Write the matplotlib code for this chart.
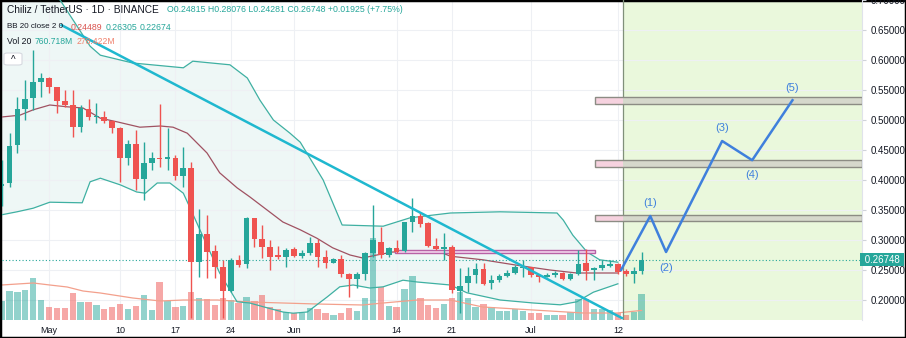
import matplotlib
matplotlib.use("Agg")
import matplotlib.pyplot as plt
import numpy as np
from matplotlib.patches import Rectangle, FancyBboxPatch

plt.rcParams['font.family'] = ['Liberation Sans', 'DejaVu Sans']

# giorni contati dal 1 maggio 2021 (25 apr .. 15 lug)
days = np.arange(-6, 76)
opens = [0.390, 0.395, 0.458, 0.518, 0.537, 0.563, 0.570, 0.555, 0.532, 0.525,
         0.488, 0.518, 0.505, 0.505, 0.498, 0.487, 0.437, 0.460, 0.402, 0.428,
         0.437, 0.435, 0.437, 0.407, 0.420, 0.263, 0.310, 0.282, 0.255, 0.215,
         0.267, 0.260, 0.337, 0.302, 0.288, 0.275, 0.272, 0.285, 0.273, 0.278,
         0.295, 0.272, 0.262, 0.268, 0.243, 0.235, 0.243, 0.278, 0.297, 0.275,
         0.287, 0.282, 0.330, 0.340, 0.328, 0.290, 0.285, 0.288, 0.215, 0.228,
         0.242, 0.252, 0.228, 0.233, 0.240, 0.245, 0.253, 0.255, 0.242, 0.238,
         0.242, 0.245, 0.235, 0.243, 0.262, 0.250, 0.253, 0.257, 0.260, 0.248,
         0.243, 0.24815]
highs = [0.433, 0.478, 0.538, 0.567, 0.617, 0.578, 0.572, 0.555, 0.550, 0.550,
         0.525, 0.535, 0.528, 0.515, 0.500, 0.488, 0.467, 0.483, 0.463, 0.447,
         0.527, 0.487, 0.442, 0.455, 0.430, 0.352, 0.342, 0.292, 0.267, 0.270,
         0.275, 0.338, 0.337, 0.325, 0.300, 0.290, 0.287, 0.288, 0.283, 0.305,
         0.302, 0.283, 0.270, 0.275, 0.245, 0.247, 0.280, 0.358, 0.322, 0.288,
         0.300, 0.330, 0.370, 0.347, 0.330, 0.303, 0.312, 0.292, 0.253, 0.255,
         0.262, 0.262, 0.242, 0.243, 0.250, 0.258, 0.267, 0.255, 0.243, 0.245,
         0.248, 0.247, 0.245, 0.283, 0.285, 0.255, 0.267, 0.267, 0.262, 0.252,
         0.255, 0.28076]
lows = [0.357, 0.388, 0.445, 0.500, 0.517, 0.538, 0.545, 0.512, 0.522, 0.472,
        0.480, 0.500, 0.495, 0.495, 0.478, 0.397, 0.425, 0.383, 0.367, 0.417,
        0.422, 0.417, 0.400, 0.388, 0.170, 0.238, 0.237, 0.237, 0.170, 0.213,
        0.255, 0.253, 0.288, 0.270, 0.250, 0.268, 0.255, 0.272, 0.270, 0.275,
        0.255, 0.253, 0.262, 0.238, 0.205, 0.220, 0.233, 0.272, 0.270, 0.272,
        0.278, 0.280, 0.313, 0.322, 0.288, 0.283, 0.267, 0.212, 0.178, 0.213,
        0.228, 0.225, 0.218, 0.230, 0.238, 0.243, 0.238, 0.238, 0.230, 0.238,
        0.238, 0.233, 0.233, 0.242, 0.233, 0.233, 0.250, 0.255, 0.243, 0.240,
        0.228, 0.24281]
closes = [0.393, 0.457, 0.518, 0.535, 0.563, 0.570, 0.555, 0.532, 0.525, 0.488,
          0.520, 0.505, 0.507, 0.498, 0.487, 0.437, 0.460, 0.402, 0.428, 0.437,
          0.435, 0.438, 0.407, 0.420, 0.263, 0.310, 0.280, 0.255, 0.215, 0.267,
          0.258, 0.337, 0.302, 0.288, 0.272, 0.272, 0.283, 0.273, 0.278, 0.295,
          0.272, 0.262, 0.268, 0.243, 0.235, 0.243, 0.278, 0.300, 0.275, 0.287,
          0.280, 0.330, 0.340, 0.327, 0.290, 0.285, 0.288, 0.217, 0.223, 0.240,
          0.252, 0.227, 0.233, 0.240, 0.245, 0.255, 0.255, 0.242, 0.238, 0.242,
          0.245, 0.235, 0.243, 0.260, 0.248, 0.253, 0.258, 0.260, 0.247, 0.243,
          0.248, 0.26748]
# volumi in milioni
volumes = [551, 841, 812, 870, 1218, 580, 377, 348, 348, 783,
           522, 522, 435, 319, 377, 464, 319, 406, 725, 290,
           1102, 551, 377, 406, 812, 638, 609, 435, 638, 580,
           493, 667, 551, 725, 377, 319, 232, 203, 203, 348,
           319, 203, 145, 203, 348, 261, 638, 2378, 957, 406,
           377, 899, 1276, 638, 435, 348, 464, 638, 812, 638,
           377, 464, 377, 261, 261, 319, 261, 203, 203, 145,
           145, 145, 232, 609, 609, 319, 319, 290, 203, 145,
           232, 761]

# Bollinger
bb_up_x = [-5.95, 1.4, 5.2, 6.5, 10.6, 17.0, 18.2, 22.9, 25.1, 26.7, 28.4, 30.5, 31.8,
           34.7, 37.1, 42.3, 45.7, 50.8, 57.1, 64.3, 65.1, 66.3, 68.1, 69.7, 72.0]
bb_up_y = [0.750, 0.700, 0.623, 0.608, 0.595, 0.587, 0.598, 0.592, 0.570, 0.533, 0.500, 0.478, 0.463,
           0.400, 0.325, 0.323, 0.337, 0.345, 0.347, 0.345, 0.333, 0.308, 0.280, 0.267, 0.263]
bb_mid_x = [-6.0, -3.7, -2.0, 0.1, 2.3, 4.3, 6.5, 8.6, 11.5, 14.1, 15.7, 17.5, 20.0, 21.6,
            23.8, 25.4, 27.6, 29.6, 31.8, 33.9, 35.9, 38.1, 39.7, 41.5, 43.5, 46.6, 49.5,
            50.8, 54.9, 59.2, 63.4, 66.8, 72.0]
bb_mid_y = [0.505, 0.508, 0.517, 0.525, 0.522, 0.520, 0.503, 0.497, 0.488, 0.490, 0.488, 0.478,
            0.445, 0.412, 0.387, 0.372, 0.350, 0.330, 0.317, 0.303, 0.287, 0.275, 0.270, 0.275,
            0.280, 0.280, 0.280, 0.273, 0.267, 0.258, 0.250, 0.245, 0.245]
bb_low_x = [-6.0, -4.05, -2.0, 0.1, 4.2, 5.2, 6.5, 9.0, 11.1, 12.2, 13.7, 15.3, 17.0, 17.8,
            19.1, 21.6, 23.8, 25.4, 27.6, 29.6, 30.9, 32.7, 33.4, 35.2, 36.8, 38.5, 40.6,
            42.3, 44.8, 46.6, 50.8, 52.9, 57.1, 61.3, 64.7, 66.8, 68.9, 72.0]
bb_low_y = [0.342, 0.347, 0.353, 0.363, 0.362, 0.397, 0.403, 0.392, 0.380, 0.378, 0.395, 0.395,
            0.378, 0.355, 0.317, 0.245, 0.197, 0.195, 0.187, 0.180, 0.178, 0.180, 0.187, 0.205,
            0.222, 0.225, 0.220, 0.222, 0.233, 0.230, 0.225, 0.212, 0.200, 0.195, 0.192, 0.197,
            0.213, 0.227]
# media mobile volumi (milioni)
vol_ma_x = [-6.0, -2.0, 0.1, 2.3, 4.3, 6.5, 10.6, 14.1, 17.0, 21.3, 25.4, 29.6, 33.9, 39.7,
            42.3, 46.6, 50.8, 54.9, 61.3, 67.6, 71.9, 75.0]
vol_ma_y = [1015, 1073, 1015, 957, 841, 783, 638, 551, 580, 580, 522, 493, 464, 435,
            493, 580, 580, 377, 290, 203, 203, 278]

# trendline, zone, onde di Elliott
trend_x = [1.6, 72.5]
trend_y = [0.658, 0.170]
zones = [(0.527, 0.538), (0.422, 0.433), (0.332, 0.342)]
zone_start = 69.1
zone_purple = (43.8, 69.1, 0.278, 0.283)
wave_x = [72.4, 76.1, 78.1, 85.2, 89.0, 94.1]
wave_y = [0.250, 0.340, 0.280, 0.465, 0.433, 0.533]
wave_labels = ['(1)', '(2)', '(3)', '(4)', '(5)']
wave_label_y = [0.362, 0.253, 0.487, 0.408, 0.553]
proj_start = 72.6
last_price = 0.26748

date_ticks = [0, 9, 16, 23, 31, 44, 51, 61, 72]
date_labels = ['May', '10', '17', '24', 'Jun', '14', '21', 'Jul', '12']
price_ticks = [0.20, 0.25, 0.30, 0.35, 0.40, 0.45, 0.50, 0.55, 0.60, 0.65, 0.70]

UP = '#26a69a'
DOWN = '#ef5350'
BLUE = '#3f80dc'

W, H = 906, 338
XL = (-5.95, 102.9)
YL = (0.16667, 0.70)

fig = plt.figure(figsize=(W / 100, H / 100), dpi=100)
rect = [2 / W, 18 / H, 860 / W, 320 / H]

#Sfondo: griglia, zona verde, riempimento BB
ax_bg = fig.add_axes(rect, zorder=0)
ax_bg.set_xlim(XL)
ax_bg.set_ylim(YL)
ax_bg.axis('off')
for t in date_ticks:
    ax_bg.axvline(t, color='#eef0f4', lw=0.8)
for p in price_ticks:
    ax_bg.axhline(p, color='#eef0f4', lw=0.8)
ax_bg.axvspan(proj_start, XL[1], color='#eaf8dc', lw=0)
ax_bg.fill(np.concatenate([bb_up_x, bb_low_x[::-1]]),
           np.concatenate([bb_up_y, bb_low_y[::-1]]),
           color='#e3f3f1', alpha=0.6, lw=0)

#Volumi
axv = fig.add_axes(rect, zorder=1)
axv.patch.set_alpha(0)
axv.set_xlim(XL)
axv.set_ylim(0, 320 * 29)
axv.axis('off')
up = np.array(closes) >= np.array(opens)
axv.bar(days, volumes, width=0.8, color=np.where(up, UP, DOWN), alpha=0.5, lw=0)
axv.plot(vol_ma_x, vol_ma_y, color='#f3a08c', lw=0.9)

#Prezzi
ax = fig.add_axes(rect, zorder=2)
ax.patch.set_alpha(0)
ax.set_xlim(XL)
ax.set_ylim(YL)

ax.plot(bb_up_x, bb_up_y, color='#3fb0a2', lw=0.9)
ax.plot(bb_low_x, bb_low_y, color='#3fb0a2', lw=0.9)
ax.plot(bb_mid_x, bb_mid_y, color='#a05262', lw=0.9)

ax.axhline(last_price, color=UP, lw=0.8, ls=(0, (1, 2)))
ax.axvline(proj_start, color='#80907a', lw=0.9)

o = np.array(opens)
c = np.array(closes)
cols = np.where(up, UP, DOWN)
ax.vlines(days, lows, highs, colors=cols, lw=1, zorder=3)
ax.bar(days, np.maximum(np.abs(c - o), 0.0016), bottom=np.minimum(o, c), width=0.72,
       color=cols, lw=0, zorder=4)

ax.plot(trend_x, trend_y, color='#1fb8cf', lw=1.8, zorder=5)

for lo, hi in zones:
    ax.add_patch(Rectangle((zone_start, lo), proj_start - zone_start, hi - lo,
                           fc='#f6d2df', ec='none', zorder=2))
    ax.add_patch(Rectangle((proj_start, lo), XL[1] - proj_start, hi - lo,
                           fc='#d6d8cc', ec='none', zorder=2))
    ax.add_patch(Rectangle((zone_start, lo), XL[1] - zone_start, hi - lo,
                           fc='none', ec='#8c8c84', lw=1, zorder=2))
x0, x1, lo, hi = zone_purple
ax.add_patch(Rectangle((x0, lo), x1 - x0, hi - lo, fc='#f3d6ee', ec='#b861a6', lw=1, zorder=2))

ax.plot(wave_x, wave_y, color=BLUE, lw=1.8, zorder=6)
for lx, ly, lab in zip(wave_x[1:], wave_label_y, wave_labels):
    ax.text(lx, ly, lab, color=BLUE, fontsize=8, ha='center', va='center', zorder=6)

for s in ['top', 'left', 'bottom']:
    ax.spines[s].set_visible(False)
ax.spines['right'].set_color('#e0e3eb')
ax.yaxis.tick_right()
ax.set_yticks(price_ticks)
ax.set_yticklabels(['%.5f' % p for p in price_ticks])
ax.tick_params(axis='y', length=3, color='#d0d3da', labelsize=7, labelcolor='#131722', pad=3)
ax.set_xticks(date_ticks)
ax.set_xticklabels(date_labels)
ax.tick_params(axis='x', length=0, labelsize=6.5, labelcolor='#131722', pad=4)

ax.text(1.0, last_price, ' 0.26748 ', transform=ax.get_yaxis_transform(), ha='left', va='center',
        fontsize=7, color='white', zorder=10,
        bbox=dict(boxstyle='square,pad=0.2', fc=UP, ec='none'), clip_on=False)

#Legenda in alto a sinistra
def ftext(x, y, s, **kw):
    fig.text(x / W, 1 - y / H, s, va='center', ha='left', **kw)

ftext(7, 10, 'Chiliz / TetherUS · 1D · BINANCE', fontsize=7.3, color='#131722')
ftext(167, 10, 'O0.24815 H0.28076 L0.24281 C0.26748 +0.01925 (+7.75%)', fontsize=6.3, color=UP)
ftext(7, 27, 'BB 20 close 2 0', fontsize=5.8, color='#131722')
ftext(71, 27, '0.24489', fontsize=6.3, color='#d9534f')
ftext(106, 27, '0.26305', fontsize=6.3, color=UP)
ftext(140, 27, '0.22674', fontsize=6.3, color=UP)
ftext(7, 42, 'Vol 20', fontsize=6.3, color='#131722')
ftext(35, 42, '760.718M', fontsize=6.2, color=UP)
ftext(77, 42, '278.422M', fontsize=6.2, color='#f0826e')

fig.patches.append(FancyBboxPatch((4 / W, 1 - 65 / H), 18 / W, 12 / H,
                                  boxstyle='round,pad=0,rounding_size=0.004',
                                  transform=fig.transFigure, fc='white', ec='#d6d9e0', lw=0.8))
fig.text(13 / W, 1 - 60 / H, '^', ha='center', va='center', fontsize=7, color='#131722')

fig.patches.append(Rectangle((0, 0), 1, 1, transform=fig.transFigure, fill=False,
                             ec='black', lw=2.5))

fig.savefig('out.png', dpi=100)
